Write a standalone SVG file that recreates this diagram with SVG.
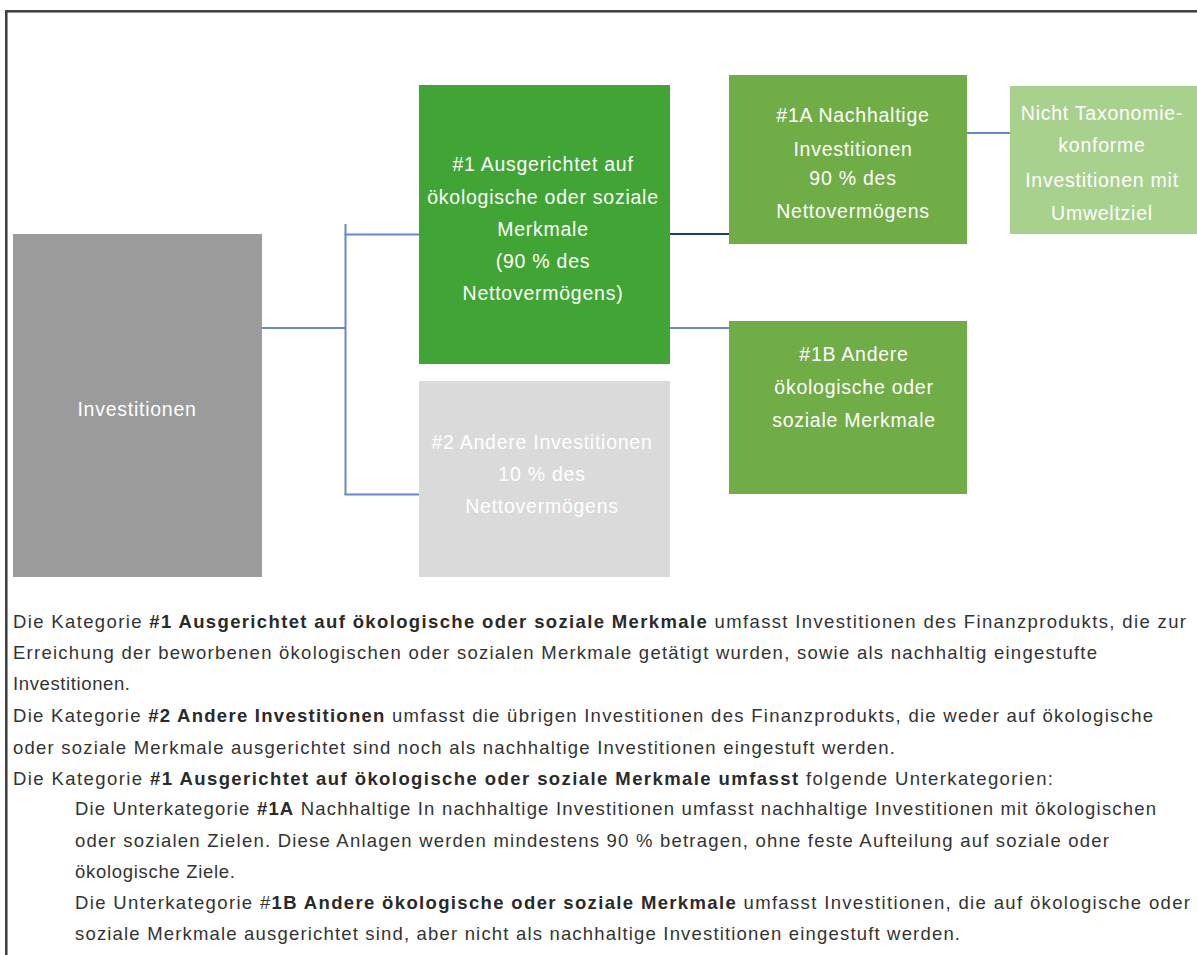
<svg xmlns="http://www.w3.org/2000/svg" width="1197" height="955" viewBox="0 0 1197 955">
<style>
.box-text{font-family:"Liberation Sans",Arial,sans-serif;font-size:19.5px;letter-spacing:0.75px;fill:#ffffff;text-anchor:middle}
.body{font-family:"Liberation Sans",Arial,sans-serif;font-size:18.5px;fill:#333333}
.b{font-weight:bold;fill:#2a2a2a}
.conn{stroke:#6887d1;stroke-width:2;fill:none}
.conn-dark{stroke:#1f3d7a;stroke-width:2;fill:none}
</style>
<rect x="0" y="0" width="1197" height="955" fill="#ffffff"/>
<rect x="6.3" y="11.3" width="1300" height="1000" fill="none" stroke="#3d3d3d" stroke-width="2.5"/>

<g id="connectors">
<line class="conn" x1="262" y1="328" x2="345.5" y2="328"/>
<line class="conn" x1="345.5" y1="224" x2="345.5" y2="495"/>
<line class="conn" x1="344.5" y1="234.5" x2="420" y2="234.5"/>
<line class="conn" x1="344.5" y1="494.5" x2="426" y2="494.5"/>
<line class="conn-dark" x1="670" y1="234" x2="730" y2="234"/>
<line class="conn" x1="670" y1="328" x2="730" y2="328"/>
<line class="conn" x1="966" y1="133" x2="1011" y2="133"/>
</g>

<g id="node-investitionen">
<rect x="13" y="234" width="249" height="343" fill="#9b9b9b"/>
<text class="box-text" x="137" y="416">Investitionen</text>
</g>

<g id="node-1">
<rect x="419" y="85" width="251" height="279" fill="#41a535"/>
<text class="box-text" x="543" y="171">#1 Ausgerichtet auf</text>
<text class="box-text" x="543" y="203.5">ökologische oder soziale</text>
<text class="box-text" x="543" y="236">Merkmale</text>
<text class="box-text" x="543" y="267.5">(90 % des</text>
<text class="box-text" x="543" y="300">Nettovermögens)</text>
</g>

<g id="node-2">
<rect x="419" y="381" width="251" height="196" fill="#dadada"/>
<text class="box-text" x="542" y="449">#2 Andere Investitionen</text>
<text class="box-text" x="542" y="481">10 % des</text>
<text class="box-text" x="542" y="513">Nettovermögens</text>
</g>

<g id="node-1a">
<rect x="729" y="75" width="238" height="169" fill="#70ad47"/>
<text class="box-text" x="853" y="121.7">#1A Nachhaltige</text>
<text class="box-text" x="853" y="155.5">Investitionen</text>
<text class="box-text" x="853" y="184.5">90 % des</text>
<text class="box-text" x="853" y="217.5">Nettovermögens</text>
</g>

<g id="node-1b">
<rect x="729" y="321" width="238" height="173" fill="#70ad47"/>
<text class="box-text" x="854" y="361">#1B Andere</text>
<text class="box-text" x="854" y="394">ökologische oder</text>
<text class="box-text" x="854" y="427">soziale Merkmale</text>
</g>

<g id="node-nicht">
<rect x="1010" y="86" width="190" height="148" fill="#a9d18e"/>
<text class="box-text" x="1102" y="120">Nicht Taxonomie-</text>
<text class="box-text" x="1102" y="152">konforme</text>
<text class="box-text" x="1102" y="187">Investitionen mit</text>
<text class="box-text" x="1102" y="219.5">Umweltziel</text>
</g>

<g id="legend-text">
<text class="body" x="13" y="628" textLength="1173" lengthAdjust="spacing">Die Kategorie <tspan class="b">#1 Ausgerichtet auf ökologische oder soziale Merkmale</tspan> umfasst Investitionen des Finanzprodukts, die zur</text>
<text class="body" x="13" y="659" textLength="1084" lengthAdjust="spacing">Erreichung der beworbenen ökologischen oder sozialen Merkmale getätigt wurden, sowie als nachhaltig eingestufte</text>
<text class="body" x="13" y="690" textLength="117" lengthAdjust="spacing">Investitionen.</text>
<text class="body" x="13" y="722" textLength="1140" lengthAdjust="spacing">Die Kategorie <tspan class="b">#2 Andere Investitionen</tspan> umfasst die übrigen Investitionen des Finanzprodukts, die weder auf ökologische</text>
<text class="body" x="13" y="754" textLength="882" lengthAdjust="spacing">oder soziale Merkmale ausgerichtet sind noch als nachhaltige Investitionen eingestuft werden.</text>
<text class="body" x="13" y="785" textLength="1040" lengthAdjust="spacing">Die Kategorie <tspan class="b">#1 Ausgerichtet auf ökologische oder soziale Merkmale umfasst</tspan> folgende Unterkategorien:</text>
<text class="body" x="75" y="815" textLength="1081" lengthAdjust="spacing">Die Unterkategorie <tspan class="b">#1A</tspan> Nachhaltige In nachhaltige Investitionen umfasst nachhaltige Investitionen mit ökologischen</text>
<text class="body" x="75" y="847" textLength="1034" lengthAdjust="spacing">oder sozialen Zielen. Diese Anlagen werden mindestens 90 % betragen, ohne feste Aufteilung auf soziale oder</text>
<text class="body" x="75" y="878" textLength="160" lengthAdjust="spacing">ökologische Ziele.</text>
<text class="body" x="75" y="909" textLength="1115" lengthAdjust="spacing">Die Unterkategorie #<tspan class="b">1B Andere ökologische oder soziale Merkmale</tspan> umfasst Investitionen, die auf ökologische oder</text>
<text class="body" x="75" y="940" textLength="885" lengthAdjust="spacing">soziale Merkmale ausgerichtet sind, aber nicht als nachhaltige Investitionen eingestuft werden.</text>
</g>
</svg>
